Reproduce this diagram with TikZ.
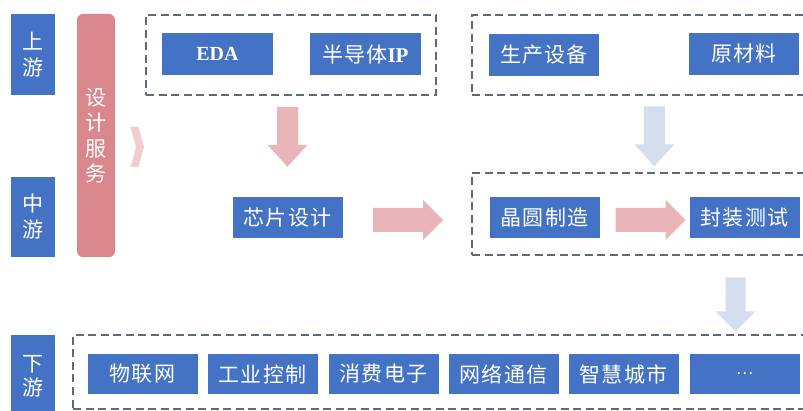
\documentclass[tikz,border=0pt]{standalone}
\usepackage{fontspec}
\usetikzlibrary{calc}
\setmainfont{Liberation Serif}
\newfontfamily\cjk{Noto Sans CJK SC}
\newfontfamily\cjksp{Noto Sans CJK SC}[LetterSpace=5]
\definecolor{boxblue}{HTML}{4472C4}
\definecolor{svcpink}{HTML}{D9868C}
\definecolor{arrpink}{HTML}{E9B5B9}
\definecolor{chevpink}{HTML}{F2CDD0}
\definecolor{arrblue}{HTML}{D5DEEE}
\definecolor{dashgray}{HTML}{5F687C}
\begin{document}
\begin{tikzpicture}[x=1pt,y=-1pt,
  bbox/.style={fill=boxblue,text=white,minimum width=110pt,minimum height=41pt,inner sep=0pt,
    font=\cjksp\fontsize{21}{24}\selectfont},
  sidebox/.style={fill=boxblue,text=white,minimum width=44pt,inner sep=0pt,align=center,
    font=\cjk\fontsize{21}{26}\selectfont},
  dbox/.style={draw=dashgray,line width=1.4pt,dash pattern=on 8pt off 4.5pt,inner sep=0pt},
  pics/rarr/.style={code={\fill[#1] (-35,-12) -- (15,-12) -- (15,-20) -- (35,0) -- (15,20) -- (15,12) -- (-35,12) -- cycle;}},
  pics/darrA/.style={code={\fill[#1] (-10.5,-30) -- (10.5,-30) -- (10.5,8) -- (20,8) -- (0,30) -- (-20,8) -- (-10.5,8) -- cycle;}},
  pics/darrB/.style={code={\fill[#1] (-10,-27) -- (10,-27) -- (10,7) -- (20,7) -- (0,27) -- (-20,7) -- (-10,7) -- cycle;}},
]
\clip (0,0) rectangle (803,411);
\fill[white] (0,0) rectangle (803,411);

% side labels
\node[sidebox,minimum height=81pt] (up) at (33,54.5) {上\\游};
\node[sidebox,minimum height=80pt] (mid) at (33,217) {中\\游};
\node[sidebox,minimum height=90pt] (down) at (33,380) {\raisebox{9pt}{\shortstack{下\\[2pt]游}}};

% design service
\node[fill=svcpink,rounded corners=6pt,minimum width=38pt,minimum height=243pt,inner sep=0pt,
  text=white,align=center,font=\cjk\fontsize{21}{25.5}\selectfont] (svc) at (96,135.5) {设\\计\\服\\务};
\fill[chevpink] (130.5,127) -- (138.5,127) -- (144,147) -- (138.5,167) -- (130.5,167) -- (136,147) -- cycle;

% dashed groups
\node[dbox,minimum width=290pt,minimum height=80pt] (g1) at (291,55) {};
\node[dbox,minimum width=338pt,minimum height=80pt] (g2) at (641,55) {};
\node[dbox,minimum width=338pt,minimum height=82pt] (g3) at (641,214) {};
\node[dbox,minimum width=737pt,minimum height=74pt] (g4) at (441.5,372) {};

% upstream boxes
\node[bbox,minimum width=111pt,minimum height=42pt,font=\fontsize{20}{24}\selectfont\bfseries] (eda) at (217.5,54) {EDA};
\node[bbox,minimum width=111pt,minimum height=42pt] (ip) at (365.5,54) {半导体{\fontspec{Liberation Serif}\bfseries IP}};
\node[bbox,minimum height=42pt] (equip) at (544,55) {生产设备};
\node[bbox,minimum height=42pt] (mat) at (744,54) {原材料};

% midstream
\node[bbox] (chip) at (287.5,217.5) {芯片设计};
\node[bbox] (wafer) at (544.5,217.5) {晶圆制造};
\node[bbox] (pack) at (744.5,217.5) {封装测试};

% downstream
\node[bbox,minimum height=40pt] (iot) at (142.5,374) {物联网};
\node[bbox,minimum height=40pt] (ind) at (262.5,374) {工业控制};
\node[bbox,minimum height=40pt] (cons) at (383.5,374) {消费电子};
\node[bbox,minimum height=40pt] (net) at (503.5,374) {网络通信};
\node[bbox,minimum height=40pt] (city) at (623.5,374) {智慧城市};
\node[bbox,minimum height=40pt,font=\cjk\fontsize{16}{20}\selectfont] (more) at (744.5,374) {…};

% arrows
\pic at ($(chip.north)+(0,-60)$) {darrA=arrpink};
\pic at ($(g3.north west)+(183,-36)$) {darrA=arrblue};
\pic at ($(g4.north)+(294,-30)$) {darrB=arrblue};
\pic at ($(chip.east)+(65.5,2.5)$) {rarr=arrpink};
\pic at ($(wafer.east)+(51,2.5)$) {rarr=arrpink};
\end{tikzpicture}
\end{document}
